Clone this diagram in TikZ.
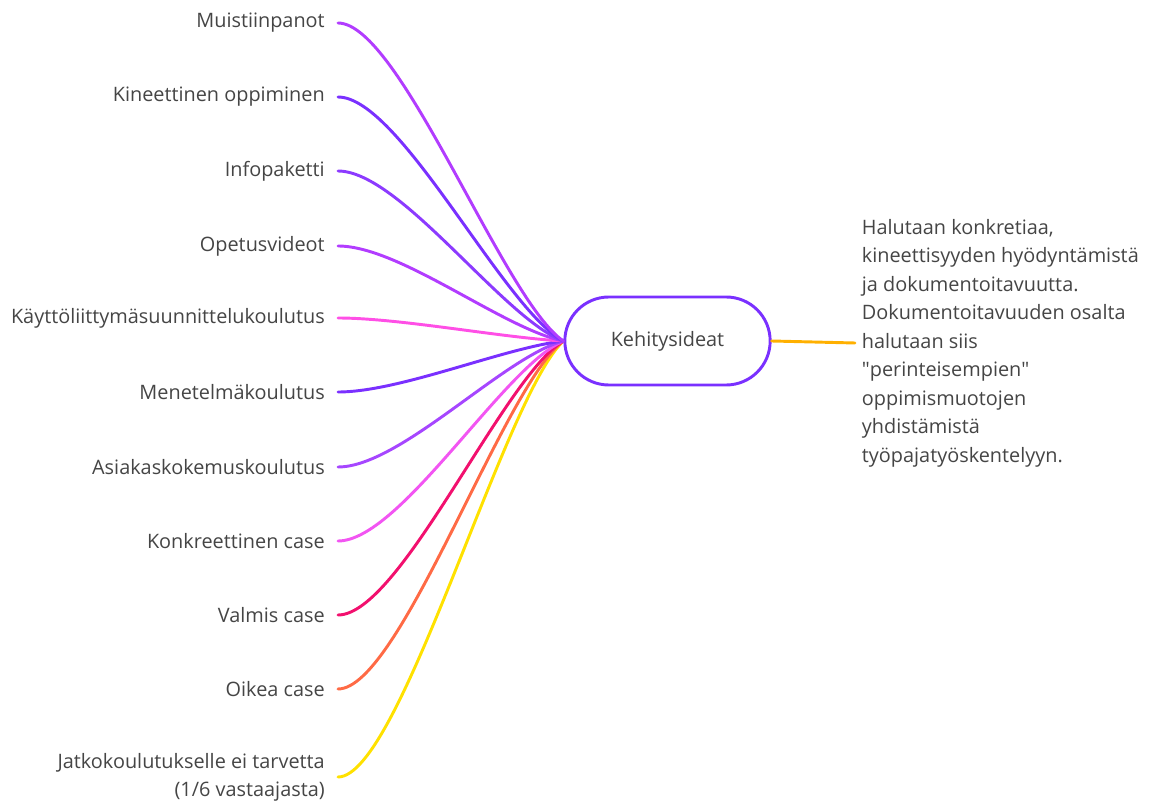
\documentclass[tikz,border=0pt]{standalone}
\usepackage{fontspec}
\setmainfont{Open Sans}
\usetikzlibrary{positioning}

\definecolor{txtgray}{HTML}{454545}
\definecolor{violetA}{HTML}{B23CFF}
\definecolor{violetB}{HTML}{7A30FF}
\definecolor{violetC}{HTML}{8C3AFF}
\definecolor{violetD}{HTML}{A646FF}
\definecolor{pinkA}{HTML}{FF4FE6}
\definecolor{pinkB}{HTML}{F255F2}
\definecolor{crimson}{HTML}{F2106E}
\definecolor{coral}{HTML}{FF6A45}
\definecolor{yellowA}{HTML}{FFE100}
\definecolor{amber}{HTML}{FFB000}

\begin{document}
\begin{tikzpicture}[x=0.75pt,y=-0.75pt,
    idea/.style={anchor=east,inner xsep=9.75pt,inner ysep=0pt,text=txtgray,
                 font=\fontsize{14.9}{21.2}\selectfont,align=right},
    branch/.style={line width=2.2pt,line cap=round},
    hub/.style={draw=violetB,line width=2.2pt,rounded corners=33pt,
                minimum width=154pt,minimum height=66pt,text=txtgray,
                font=\fontsize{14.9}{18}\selectfont}]
    \useasboundingbox (0,0) rectangle (1150,805);

    \node[hub] (kehitys) at (667.5,341) {Kehitysideat};

    \node[idea] (muisti) at (338,23) {Muistiinpanot};
    \node[idea] (kineet) at (338,97) {Kineettinen oppiminen};
    \node[idea] (info) at (338,171) {Infopaketti};
    \node[idea] (opetus) at (338,246) {Opetusvideot};
    \node[idea] (kaytto) at (338,318) {Käyttöliittymäsuunnittelukoulutus};
    \node[idea] (menet) at (338,392) {Menetelmäkoulutus};
    \node[idea] (asiakas) at (338,467) {Asiakaskokemuskoulutus};
    \node[idea] (konkr) at (338,541) {Konkreettinen case};
    \node[idea] (valmis) at (338,615) {Valmis case};
    \node[idea] (oikea) at (338,689) {Oikea case};
    \node[idea] (jatko) at (338,777) {Jatkokoulutukselle ei tarvetta\\(1/6 vastaajasta)};

    \node[anchor=west,inner xsep=5pt,text=txtgray,align=left,
          font=\fontsize{14.9}{21.4}\selectfont] (huom) at (855,343)
        {Halutaan konkretiaa,\\kineettisyyden hyödyntämistä\\ja dokumentoitavuutta.\\Dokumentoitavuuden osalta\\halutaan siis\\\textquotedbl perinteisempien\textquotedbl\\oppimismuotojen\\yhdistämistä\\työpajatyöskentelyyn.};

    % branches into the hub, drawn bottom up
    \draw[branch,yellowA] (jatko.east) .. controls +(62,0) and +(-60,57) .. (kehitys.west);
    \draw[branch,coral] (oikea.east) .. controls +(62,0) and +(-60,45) .. (kehitys.west);
    \draw[branch,crimson] (valmis.east) .. controls +(62,0) and +(-60,36) .. (kehitys.west);
    \draw[branch,pinkB] (konkr.east) .. controls +(62,0) and +(-60,26) .. (kehitys.west);
    \draw[branch,violetD] (asiakas.east) .. controls +(62,0) and +(-60,16) .. (kehitys.west);
    \draw[branch,violetB] (menet.east) .. controls +(62,0) and +(-60,7) .. (kehitys.west);
    \draw[branch,pinkA] (kaytto.east) .. controls +(62,0) and +(-60,-3) .. (kehitys.west);
    \draw[branch,violetA] (opetus.east) .. controls +(62,0) and +(-60,-12) .. (kehitys.west);
    \draw[branch,violetC] (info.east) .. controls +(62,0) and +(-60,-22) .. (kehitys.west);
    \draw[branch,violetB] (kineet.east) .. controls +(62,0) and +(-60,-32) .. (kehitys.west);
    \draw[branch,violetA] (muisti.east) .. controls +(62,0) and +(-60,-41) .. (kehitys.west);

    \draw[branch,amber] (kehitys.east) -- (huom.west);
\end{tikzpicture}
\end{document}
